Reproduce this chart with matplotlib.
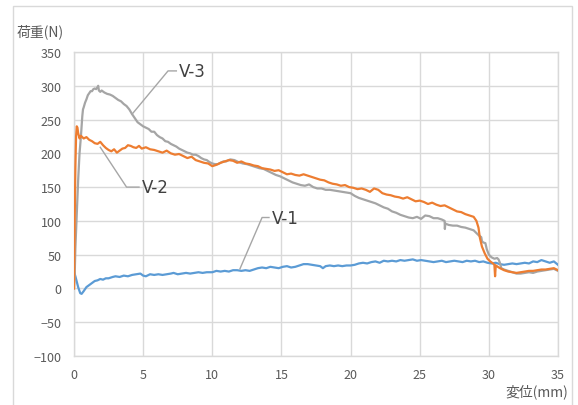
import matplotlib
matplotlib.use("Agg")
import matplotlib.pyplot as plt
from matplotlib.patches import Rectangle

plt.rcParams['font.family'] = ['Noto Sans CJK JP', 'DejaVu Sans']

# ---------------- data ----------------
v1_x = [0.0, 0.1, 0.2, 0.3, 0.45, 0.55, 0.7, 0.9, 1.1, 1.3, 1.5, 1.7, 1.9, 2.1, 2.3, 2.5, 2.8, 3.0, 3.3, 3.6,
        3.9, 4.2, 4.5, 4.8, 5.0, 5.2, 5.5, 5.8, 6.1, 6.4, 6.7, 7.0, 7.2, 7.5, 7.8, 8.1, 8.4, 8.7, 9.0, 9.3,
        9.6, 10.0, 10.3, 10.6, 10.9, 11.2, 11.5, 11.8, 12.1, 12.4, 12.7, 13.0, 13.3, 13.6, 13.9, 14.2, 14.5,
        14.8, 15.1, 15.4, 15.7, 16.0, 16.3, 16.6, 16.9, 17.2, 17.5, 17.8, 18.0, 18.2, 18.5, 18.8, 19.1, 19.4,
        19.7, 20.0, 20.3, 20.6, 20.9, 21.2, 21.5, 21.8, 22.1, 22.4, 22.7, 23.0, 23.3, 23.6, 23.9, 24.2, 24.5,
        24.8, 25.1, 25.4, 25.7, 26.0, 26.3, 26.6, 26.9, 27.2, 27.5, 27.8, 28.1, 28.4, 28.7, 29.0, 29.3, 29.6,
        29.9, 30.2, 30.5, 30.8, 31.1, 31.4, 31.7, 32.0, 32.3, 32.6, 32.9, 33.2, 33.5, 33.8, 34.1, 34.4, 34.7, 35.0]
v1_y = [25, 18, 10, 2, -7, -8, -4, 2, 5, 8, 11, 12, 14, 13, 15, 15, 17, 18, 17, 19,
        18, 20, 21, 22, 19, 18, 21, 20, 21, 20, 21, 22, 23, 21, 22, 23, 22, 23, 24, 23,
        24, 24, 26, 25, 26, 25, 27, 27, 26, 27, 26, 28, 30, 31, 30, 32, 31,
        30, 32, 33, 31, 32, 34, 36, 36, 35, 34, 33, 30, 33, 34, 33, 34, 33,
        34, 34, 35, 37, 38, 37, 39, 40, 38, 41, 40, 41, 40, 42, 41, 42, 43,
        41, 42, 41, 40, 39, 40, 41, 39, 40, 41, 40, 39, 41, 40, 41, 39, 40,
        38, 37, 38, 36, 35, 36, 37, 36, 37, 38, 37, 40, 39, 42, 40, 38, 40, 35]

v2_x = [0.0, 0.05, 0.1, 0.15, 0.2, 0.25, 0.3, 0.4, 0.5, 0.7, 0.9, 1.1, 1.3, 1.5, 1.7, 1.9, 2.1, 2.3, 2.5, 2.7,
        2.9, 3.1, 3.3, 3.5, 3.7, 3.9, 4.1, 4.3, 4.5, 4.7, 4.9, 5.2, 5.5, 5.8, 6.1, 6.4, 6.7, 7.0, 7.3, 7.6,
        7.9, 8.2, 8.5, 8.8, 9.1, 9.4, 9.7, 10.0, 10.3, 10.6, 10.9, 11.2, 11.5, 11.8, 12.1, 12.4, 12.7, 13.0,
        13.3, 13.6, 13.9, 14.2, 14.5, 14.8, 15.1, 15.4, 15.7, 16.0, 16.3, 16.6, 16.9, 17.2, 17.5, 17.8, 18.1,
        18.4, 18.7, 19.0, 19.3, 19.6, 19.9, 20.2, 20.5, 20.8, 21.1, 21.4, 21.7, 22.0, 22.3, 22.6, 22.9, 23.2,
        23.5, 23.8, 24.1, 24.4, 24.7, 25.0, 25.3, 25.6, 25.9, 26.2, 26.5, 26.8, 27.1, 27.4, 27.7, 28.0, 28.3,
        28.6, 28.9, 29.1, 29.25, 29.35, 29.5, 29.7, 29.9, 30.1, 30.3, 30.4, 30.45, 30.5, 30.8, 31.1, 31.4,
        31.7, 32.0, 32.3, 32.6, 32.9, 33.2, 33.5, 33.8, 34.1, 34.4, 34.7, 35.0]
v2_y = [0, 100, 180, 225, 240, 238, 230, 222, 226, 222, 224, 220, 218, 215, 214, 217, 212, 208, 205, 203,
        206, 201, 204, 207, 208, 212, 211, 209, 208, 211, 207, 209, 206, 205, 203, 201, 204, 200, 198, 199,
        196, 193, 195, 190, 188, 186, 185, 181, 183, 186, 188, 190, 189, 186, 188, 185, 184, 182,
        181, 178, 177, 176, 174, 175, 172, 169, 170, 168, 167, 169, 167, 165, 163, 161, 160,
        157, 155, 154, 152, 153, 150, 149, 147, 148, 146, 143, 148, 146, 141, 139, 138, 136,
        135, 133, 135, 132, 129, 130, 128, 125, 127, 124, 122, 123, 120, 117, 114, 113, 110,
        108, 106, 100, 90, 75, 62, 52, 44, 40, 37, 35, 18, 34, 30, 27, 25,
        24, 23, 24, 25, 26, 26, 27, 28, 28, 29, 30, 27]

v3_x = [0.0, 0.05, 0.1, 0.2, 0.3, 0.4, 0.5, 0.55, 0.6, 0.65, 0.7, 0.8, 0.9, 1.0, 1.1, 1.2, 1.3, 1.4, 1.5, 1.6,
        1.7, 1.75, 1.8, 1.9, 2.0, 2.2, 2.4, 2.6, 2.8, 3.0, 3.2, 3.4, 3.6, 3.8, 4.0, 4.2, 4.4, 4.6, 4.8, 5.0,
        5.2, 5.4, 5.6, 5.8, 6.0, 6.2, 6.4, 6.6, 6.8, 7.0, 7.2, 7.4, 7.6, 7.8, 8.0, 8.2, 8.4, 8.6, 8.8, 9.0,
        9.2, 9.4, 9.6, 9.8, 10.0, 10.2, 10.4, 10.6, 10.8, 11.0, 11.3, 11.6, 11.9, 12.2, 12.5, 12.8, 13.1,
        13.4, 13.7, 14.0, 14.3, 14.6, 14.9, 15.2, 15.5, 15.8, 16.1, 16.4, 16.7, 17.0, 17.3, 17.6, 17.9,
        18.2, 18.5, 18.8, 19.1, 19.4, 19.7, 20.0, 20.3, 20.6, 20.9, 21.2, 21.5, 21.8, 22.1, 22.4, 22.7,
        23.0, 23.3, 23.6, 23.9, 24.2, 24.5, 24.8, 25.1, 25.4, 25.7, 26.0, 26.3, 26.6, 26.8, 26.82, 26.85,
        27.1, 27.4, 27.7, 28.0, 28.3, 28.6, 28.9, 29.1, 29.3, 29.45, 29.5, 29.6, 29.75, 29.85, 30.0, 30.2,
        30.4, 30.6, 30.7, 30.8, 30.9, 31.1, 31.4, 31.7, 32.0, 32.3, 32.6, 32.9, 33.2, 33.5, 33.8, 34.1,
        34.4, 34.7, 35.0]
v3_y = [0, 20, 60, 110, 160, 200, 225, 240, 255, 265, 268, 275, 280, 286, 289, 292, 292, 295, 296, 295,
        298, 300, 293, 291, 293, 290, 288, 287, 285, 282, 279, 277, 273, 270, 265, 258, 252, 246, 243, 240,
        238, 236, 232, 232, 227, 224, 222, 218, 217, 214, 212, 210, 207, 205, 203, 201, 200, 198, 198, 196,
        193, 191, 190, 187, 185, 184, 184, 186, 188, 188, 191, 190, 187, 185, 184, 182, 180,
        178, 177, 174, 171, 168, 166, 163, 160, 157, 155, 153, 152, 154, 150, 148, 148,
        146, 146, 145, 144, 143, 142, 141, 137, 134, 132, 130, 128, 126, 123, 120, 118,
        114, 112, 109, 107, 105, 104, 106, 103, 108, 107, 104, 104, 102, 100, 88, 96,
        94, 93, 93, 91, 90, 88, 86, 82, 78, 76, 70, 68, 67, 58, 50, 46,
        44, 45, 43, 38, 30, 28, 26, 24, 22, 22, 23, 24, 23, 25, 26, 27,
        28, 29, 26]

x_ticks = [0, 5, 10, 15, 20, 25, 30, 35]
y_ticks = [-100, -50, 0, 50, 100, 150, 200, 250, 300, 350]
series_names = ["V-1", "V-2", "V-3"]

# ---------------- figure ----------------
W, H = 578, 406
fig = plt.figure(figsize=(W / 100, H / 100), dpi=100)
fig.patch.set_facecolor('white')

# outer chart border
fig.patches.append(Rectangle((13 / W, -0.01), (572 - 13) / W, 1 - 7 / H + 0.01,
                             transform=fig.transFigure, fill=False,
                             edgecolor='#d9d9d9', linewidth=1.0))

ax = fig.add_axes([74 / W, 1 - 357 / H, (558 - 74) / W, (357 - 53) / H])
ax.set_xlim(0, 35)
ax.set_ylim(-100, 350)
ax.set_xticks(x_ticks)
ax.set_yticks(y_ticks)
ax.grid(True, color='#d9d9d9', linewidth=1.0)
ax.set_axisbelow(True)
for s in ax.spines.values():
    s.set_color('#d9d9d9')
    s.set_linewidth(1.0)
ax.tick_params(length=0, labelsize=9, colors='#595959', pad=9)

lw = 1.6
ax.plot(v1_x, v1_y, color='#5B9BD5', linewidth=lw, zorder=3)
ax.plot(v3_x, v3_y, color='#A5A5A5', linewidth=lw, zorder=3)
ax.plot(v2_x, v2_y, color='#ED7D31', linewidth=lw, zorder=4)

# callout labels with leader lines
lead_kw = dict(color='#a6a6a6', linewidth=1.0, zorder=5)
ax.plot([7.4, 6.8, 4.2], [322, 322, 258], **lead_kw)
ax.text(7.6, 322, series_names[2], fontsize=12, color='#404040', va='center', ha='left',
        family=['DejaVu Sans'])
ax.plot([4.7, 3.8, 1.9], [150, 150, 209], **lead_kw)
ax.text(4.9, 150, series_names[1], fontsize=12, color='#404040', va='center', ha='left',
        family=['DejaVu Sans'])
ax.plot([14.1, 13.6, 12.0], [105, 105, 29], **lead_kw)
ax.text(14.3, 105, series_names[0], fontsize=12, color='#404040', va='center', ha='left',
        family=['DejaVu Sans'])

# axis titles
fig.text(17 / W, 1 - 32 / H, "荷重(N)", fontsize=10, color='#595959', va='center', ha='left')
fig.text(568 / W, 1 - 392 / H, "変位(mm)", fontsize=10, color='#595959', va='center', ha='right')

fig.savefig("out.png", dpi=100, facecolor='white')
